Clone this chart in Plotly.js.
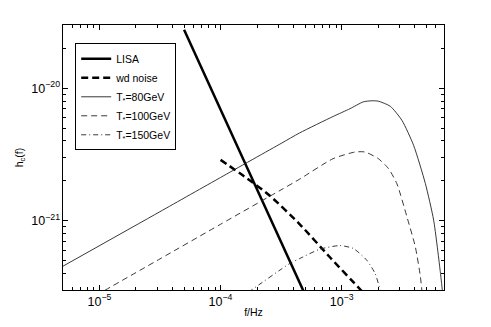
<!DOCTYPE html>
<html>
<head>
<meta charset="utf-8">
<script src="https://cdn.plot.ly/plotly-3.0.1.min.js"></script>
<style>
  html, body { margin: 0; padding: 0; background: #fff; }
  #gd { width: 491px; height: 327px; }
</style>
</head>
<body>
<div id="gd"></div>
<script>
// frequencies (Hz) and characteristic strain h_c
var lisaF = [5e-5, 1e-4, 2e-4, 5e-4];
var lisaH = [2.76e-20, 6.9e-21, 1.73e-21, 2.76e-22];

var wdF = [1.0e-4, 1.57e-4, 2.54e-4, 4.51e-4, 8.0e-4, 1.42e-3, 1.56e-3];
var wdH = [2.88e-21, 2.16e-21, 1.55e-21, 9.4e-22, 5.3e-22, 3.04e-22, 2.79e-22];

var t80F = [5e-6, 3.16e-5, 1e-4, 3.16e-4, 4.5e-4, 8.5e-4, 1.17e-3, 1.51e-3, 1.78e-3,
            2.01e-3, 2.52e-3, 3.15e-3, 3.93e-3, 4.91e-3, 5.75e-3, 6.55e-3, 6.92e-3];
var t80H = [4.54e-22, 1.17e-21, 2.12e-21, 3.83e-21, 4.6e-21, 6.12e-21, 7.0e-21, 7.89e-21, 8.04e-21,
            7.98e-21, 7.31e-21, 5.71e-21, 3.7e-21, 1.91e-21, 1.01e-21, 3.99e-22, 2.5e-22];

var t100F = [7.94e-6, 3.16e-5, 1e-4, 3.16e-4, 4.5e-4, 8.5e-4, 1.29e-3, 1.56e-3, 2.01e-3,
             2.44e-3, 2.86e-3, 3.46e-3, 4.06e-3, 4.47e-3, 4.68e-3];
var t100H = [2.51e-22, 5.15e-22, 9.4e-22, 1.71e-21, 2.06e-21, 2.94e-21, 3.3e-21, 3.3e-21, 2.94e-21,
             2.47e-21, 1.9e-21, 1.07e-21, 6.34e-22, 3.77e-22, 2.51e-22];

var t150F = [1.41e-4, 1.79e-4, 3.72e-4, 4.5e-4, 6.61e-4, 9.68e-4, 1.25e-3, 1.61e-3, 1.89e-3, 2.08e-3, 2.16e-3];
var t150H = [2.59e-22, 2.99e-22, 4.75e-22, 5.18e-22, 6.1e-22, 6.49e-22, 6.17e-22, 5.04e-22, 3.99e-22, 2.99e-22, 2.51e-22];

var font = "Liberation Sans, Arial, sans-serif";

var traces = [
  { x: lisaF, y: lisaH, name: "LISA", mode: "lines",
    line: { color: "#000", width: 2.5 } },
  { x: wdF, y: wdH, name: "wd noise", mode: "lines",
    line: { color: "#000", width: 2.5, dash: "7px,4px", shape: "spline", smoothing: 0.6 } },
  { x: t80F, y: t80H, name: "T<sub>*</sub>=80GeV", mode: "lines",
    line: { color: "#222", width: 0.9, shape: "spline", smoothing: 0.6 } },
  { x: t100F, y: t100H, name: "T<sub>*</sub>=100GeV", mode: "lines",
    line: { color: "#222", width: 0.9, dash: "6px,4px", shape: "spline", smoothing: 0.6 } },
  { x: t150F, y: t150H, name: "T<sub>*</sub>=150GeV", mode: "lines",
    line: { color: "#222", width: 0.9, dash: "5px,3px,1px,3px", shape: "spline", smoothing: 0.6 } }
];

var axisCommon = {
  type: "log",
  dtick: 1,
  exponentformat: "power",
  showgrid: false,
  zeroline: false,
  showline: true,
  linecolor: "#000",
  linewidth: 1,
  mirror: "allticks",
  ticks: "inside",
  ticklen: 5,
  tickcolor: "#000",
  minor: { dtick: "D1", ticks: "inside", ticklen: 3, tickcolor: "#000", showgrid: false },
  tickfont: { family: font, size: 10, color: "#000" }
};

var layout = {
  width: 491,
  height: 327,
  margin: { l: 63, r: 47, t: 25, b: 37 },
  paper_bgcolor: "#fff",
  plot_bgcolor: "#fff",
  font: { family: font, size: 10, color: "#000" },
  showlegend: true,
  legend: {
    x: 0.032, y: 0.931, xanchor: "left", yanchor: "top",
    bgcolor: "#fff", bordercolor: "#000", borderwidth: 1,
    font: { family: font, size: 10.5, color: "#000" }
  },
  xaxis: Object.assign({}, axisCommon, {
    range: [Math.log10(5e-6), Math.log10(7e-3)],
    title: { text: "f/Hz", font: { family: font, size: 10.5 }, standoff: 1 }
  }),
  yaxis: Object.assign({}, axisCommon, {
    range: [Math.log10(3e-22), Math.log10(3e-20)],
    title: { text: "h<sub>c</sub>(f)", font: { family: font, size: 10.5 }, standoff: 5 }
  })
};

Plotly.newPlot("gd", traces, layout, { staticPlot: true, displayModeBar: false });
</script>
</body>
</html>
